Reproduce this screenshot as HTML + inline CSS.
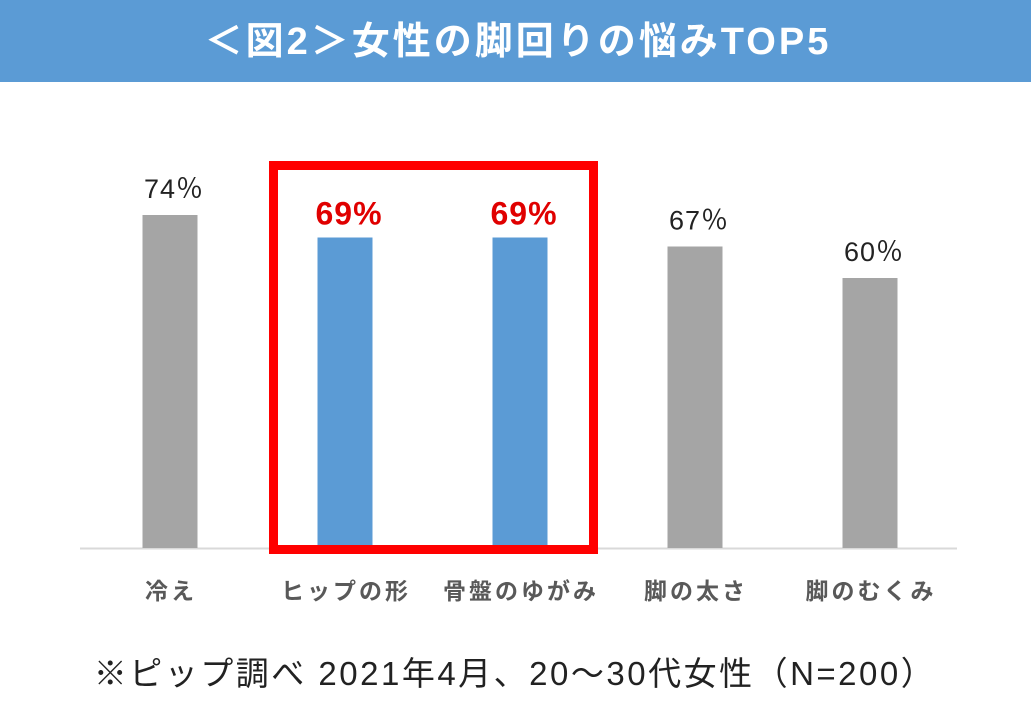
<!DOCTYPE html>
<html><head><meta charset="utf-8"><style>
body{margin:0;width:1031px;height:714px;background:#fff;overflow:hidden;font-family:"Liberation Sans","Noto Sans CJK JP",sans-serif;}
</style></head><body>
<svg width="1031" height="714">
<rect x="0" y="0" width="1031" height="82" fill="#5b9bd5"/>
<text x="518" y="54" text-anchor="middle" font-size="38" font-weight="bold" letter-spacing="3" fill="#fff" font-family="Liberation Sans, Noto Sans CJK JP, sans-serif">＜図2＞女性の脚回りの悩みTOP5</text>
<line x1="80" y1="548.5" x2="957" y2="548.5" stroke="#d9d9d9" stroke-width="2"/>
<g id="bars"></g>
<rect x="273.5" y="165.5" width="320" height="384" fill="none" stroke="#f00" stroke-width="9"/>
<text x="515" y="685" text-anchor="middle" font-size="33" letter-spacing="2.5" fill="#222" font-family="Liberation Sans, Noto Sans CJK JP, sans-serif">※ピップ調べ 2021年4月、20～30代女性（N=200）</text>
</svg>
<script>
const categories=["冷え","ヒップの形","骨盤のゆがみ","脚の太さ","脚のむくみ"];
const values=[74,69,69,67,60];
const highlighted=[false,true,true,false,false];
const ns="http://www.w3.org/2000/svg";
const g=document.getElementById("bars");
function xCenter(i){return 170+i*175;}
function yScale(v){return 548-v*4.5;}
values.forEach((v,i)=>{
  const r=document.createElementNS(ns,"rect");
  r.setAttribute("x",xCenter(i)-27.5);r.setAttribute("y",yScale(v));
  r.setAttribute("width",55);r.setAttribute("height",548-yScale(v));
  r.setAttribute("fill",highlighted[i]?"#5b9bd5":"#a5a5a5");
  
  
  g.appendChild(r);
  const t=document.createElementNS(ns,"text");
  t.setAttribute("x",xCenter(i)+4);t.setAttribute("y",yScale(v)-(highlighted[i]?13:17));
  t.setAttribute("text-anchor","middle");
  t.setAttribute("font-size",highlighted[i]?32:27);
  if(highlighted[i]){t.setAttribute("font-weight","bold");t.setAttribute("fill","#e00000");t.setAttribute("letter-spacing","1");t.textContent=v+"%";}
  else{t.setAttribute("fill","#222");t.setAttribute("letter-spacing","1");t.textContent=v+"％";}
  
  
  g.appendChild(t);
  const c=document.createElementNS(ns,"text");
  c.setAttribute("x",xCenter(i)+1);c.setAttribute("y",599);
  c.setAttribute("text-anchor","middle");c.setAttribute("font-size",23);
  c.setAttribute("letter-spacing","3");
  c.setAttribute("font-weight","bold");c.setAttribute("fill","#595959");
  c.textContent=categories[i];
  
  
  g.appendChild(c);
});
</script>
</body></html>
